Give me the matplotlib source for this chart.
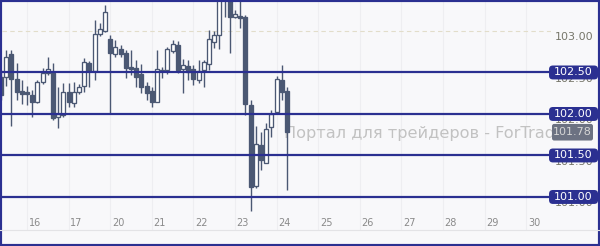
import matplotlib
matplotlib.use("Agg")
import matplotlib.pyplot as plt
from matplotlib.patches import FancyBboxPatch, Rectangle
from matplotlib.lines import Line2D

# 3-hour candles, left to right
opens = [102.45, 102.45, 102.72, 102.42, 102.28, 102.27, 102.23, 102.15, 102.39, 102.49,
         102.49, 101.96, 101.99, 102.27, 102.13, 102.27, 102.34, 102.61, 102.52, 102.96,
         103.00, 102.90, 102.72, 102.78, 102.73, 102.57, 102.55, 102.48, 102.34, 102.28,
         102.15, 102.53, 102.53, 102.76, 102.83, 102.54, 102.58, 102.54, 102.41, 102.53,
         102.60, 102.87, 102.95, 103.50, 103.50, 103.17, 103.18, 103.17, 102.11, 101.13,
         101.63, 101.41, 101.84, 102.02, 102.41, 102.28]
highs = [102.53, 102.77, 102.77, 102.61, 102.41, 102.34, 102.29, 102.41, 102.55, 102.69,
         102.61, 102.33, 102.37, 102.37, 102.39, 102.36, 102.68, 102.64, 103.13, 103.10,
         103.31, 102.95, 102.89, 102.83, 102.77, 102.77, 102.65, 102.60, 102.39, 102.33,
         102.77, 102.57, 102.81, 102.89, 102.88, 102.66, 102.65, 102.59, 102.65, 102.65,
         103.01, 103.00, 103.60, 103.70, 103.55, 103.25, 103.40, 103.19, 102.17, 101.86,
         101.78, 101.89, 102.05, 102.46, 102.59, 102.33]
lows = [102.17, 102.34, 101.86, 102.17, 102.12, 102.11, 101.96, 102.13, 102.36, 102.47,
        101.93, 101.83, 101.96, 102.08, 102.08, 102.24, 102.27, 102.33, 102.41, 102.94,
        102.99, 102.01, 102.69, 102.69, 102.43, 102.47, 102.33, 102.25, 102.17, 102.08,
        102.14, 102.43, 102.48, 102.73, 102.49, 102.25, 102.41, 102.35, 102.37, 102.33,
        102.53, 102.80, 102.78, 103.17, 102.735, 103.16, 103.04, 101.99, 100.83, 101.11,
        101.33, 101.41, 101.72, 102.01, 102.17, 101.08]
closes = [102.23, 102.69, 102.42, 102.27, 102.24, 102.24, 102.15, 102.39, 102.49, 102.54,
          101.95, 102.00, 102.27, 102.15, 102.27, 102.33, 102.63, 102.52, 102.96, 103.02,
          103.23, 102.73, 102.81, 102.72, 102.55, 102.54, 102.45, 102.33, 102.25, 102.15,
          102.54, 102.52, 102.78, 102.84, 102.53, 102.59, 102.51, 102.42, 102.52, 102.63,
          102.90, 102.95, 103.50, 103.60, 103.17, 103.20, 103.16, 102.12, 101.12, 101.64,
          101.45, 101.82, 102.00, 102.42, 102.27, 101.78]

day_labels = ["16", "17", "20", "21", "22", "23", "24", "25", "26", "27", "28", "29", "30"]
levels = [102.50, 102.00, 101.50, 101.00]
grid_price = 103.00
last_price = 101.78

candle_col = "#4b5873"
navy = "#2b3091"
bg = "#f8f8fa"

fig = plt.figure(figsize=(6, 2.46), dpi=100, facecolor=bg)
ax = fig.add_axes([2 / 600, 16 / 246, 549 / 600, 228 / 246])
ax.set_xlim(0.19, 105.77)
ax.set_ylim(100.602, 103.349)
ax.set_axis_off()

# faint day separators
for k in range(len(day_labels)):
    ax.axvline(5 + 8 * k, color="#eeeef1", lw=0.8, zorder=0)

# watermark
ax.text(54.4, last_price - 0.01, "Портал для трейдеров - ForTrader.ru", fontsize=11.6,
        color="#c2c2c2", va="center", ha="left", zorder=1, clip_on=False)

# dashed grid at 103.00
ax.axhline(grid_price, color="#e2ddca", lw=0.8, ls=(0, (4, 3)), zorder=1)

# candles
idx = list(range(len(opens)))
ax.vlines(idx, lows, highs, color=candle_col, lw=1.0, zorder=3)
for i in idx:
    o, c = opens[i], closes[i]
    bottom = min(o, c)
    h = max(abs(c - o), 0.012)
    up = c >= o
    ax.bar(i, h, bottom=bottom, width=0.78, color="white" if up else candle_col,
           edgecolor=candle_col, lw=0.95, zorder=4)

# level lines
for lv in levels:
    ax.axhline(lv, color=navy, lw=1.6, zorder=5)

# right price labels (partly hidden under boxes)
ytr = ax.get_yaxis_transform()
for lv in [grid_price] + levels:
    ax.text(1.042, lv - 0.075, f"{lv:.2f}", transform=ytr, fontsize=8, color="#76766a",
            ha="center", va="center", clip_on=False, zorder=6)

asp = 549 / 83
for lv in levels:
    box = FancyBboxPatch((0.9964, lv - 0.084), 0.0893, 0.168, transform=ytr,
                         boxstyle="round,pad=0,rounding_size=0.007", mutation_aspect=asp,
                         facecolor=navy, edgecolor="none", clip_on=False, zorder=7)
    ax.add_patch(box)
    ax.text(1.041, lv, f"{lv:.2f}", transform=ytr, fontsize=8, color="white",
            ha="center", va="center", clip_on=False, zorder=8)

box = FancyBboxPatch((1.0018, last_price - 0.1), 0.0747, 0.2, transform=ytr,
                     boxstyle="round,pad=0,rounding_size=0.004", mutation_aspect=asp,
                     facecolor="#6c7282", edgecolor="none", clip_on=False, zorder=7)
ax.add_patch(box)
ax.text(1.039, last_price, f"{last_price:.2f}", transform=ytr, fontsize=8, color="#d6d6d6",
        ha="center", va="center", clip_on=False, zorder=8)

# date labels
xtr = ax.get_xaxis_transform()
for k, lab in enumerate(day_labels):
    ax.text(6.5 + 8 * k, 0.031, lab, transform=xtr, fontsize=7, color="#8a8a8a",
            ha="center", va="center", clip_on=False)

# bottom separator and frame
fig.add_artist(Line2D([0, 1], [16 / 246, 16 / 246], transform=fig.transFigure,
                      color="#e3e3e6", lw=0.8))
fig.add_artist(Rectangle((0, 0), 1, 1, transform=fig.transFigure, fill=False,
                         edgecolor=navy, lw=3))

fig.savefig("out.png", dpi=100, facecolor=bg)
